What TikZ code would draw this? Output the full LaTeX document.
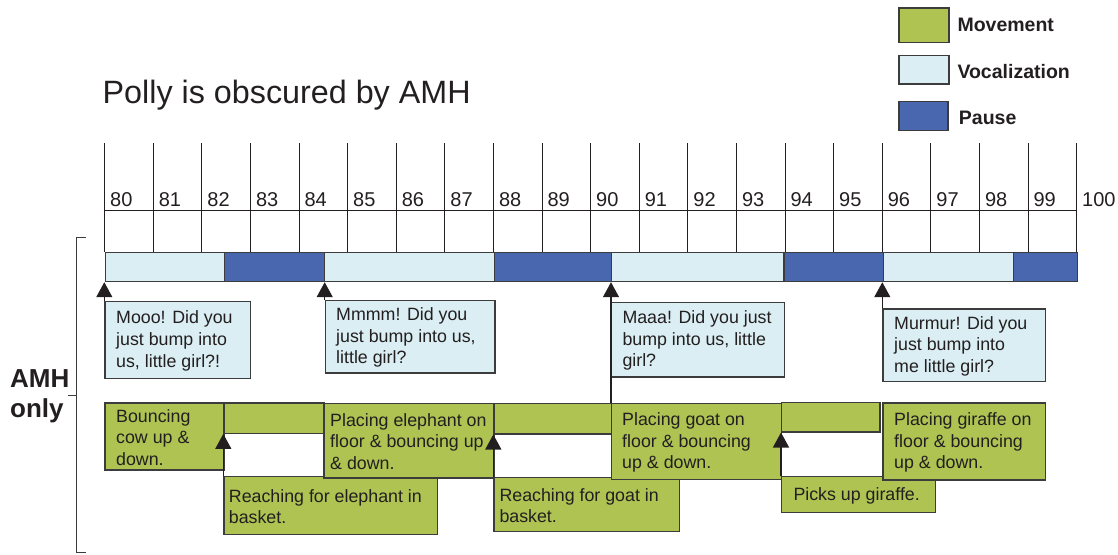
\documentclass[tikz,border=0pt]{standalone}
\usepackage{fontspec}
\setmainfont{Liberation Sans}
\usetikzlibrary{arrows.meta}
\definecolor{move}{RGB}{174,195,82}
\definecolor{vocal}{RGB}{218,238,243}
\definecolor{pause}{RGB}{72,103,175}
\definecolor{ink}{RGB}{35,31,32}
\definecolor{edge}{RGB}{60,60,60}

% rectangle node from its corners: name, style, left, top, right, bottom
\newcommand\slab[6]{%
  \node[#2, anchor=north west, inner sep=0pt,
        minimum width={(#5-#3)*1pt}, minimum height={(#6-#4)*1pt}] (#1) at (#3,#4) {};}
% text set inside a box, at a left padding: name, box, padding, text
\newcommand\btext[4]{%
  \node[txt, anchor=west] (#1) at ([xshift=#3pt, yshift=-1pt]#2.west) {#4};}

\begin{document}
\begin{tikzpicture}[x=1pt, y=-1pt,
  grid/.style={draw=ink, line width=0.9pt},
  mv/.style={draw=edge, line width=1.2pt, fill=move},
  vc/.style={draw=edge, line width=1.2pt, fill=vocal},
  ps/.style={draw=edge, line width=1.2pt, fill=pause},
  txt/.style={inner sep=0pt, align=left, text=ink, font=\fontsize{17.8}{21.6}\selectfont},
  num/.style={anchor=base west, inner sep=0pt, text=ink, font=\fontsize{20}{24}\selectfont},
  legtxt/.style={anchor=base west, inner sep=0pt, text=ink, font=\bfseries\fontsize{19.5}{23}\selectfont},
  conn/.style={draw=ink, line width=1.2pt, -{Triangle[width=16pt,length=15pt]}},
  brk/.style={draw=edge, line width=1.3pt}]
\useasboundingbox (0,0) rectangle (1118,554);

% title
\node[anchor=base west, inner sep=0pt, text=ink, font=\fontsize{32.3}{38}\selectfont]
  (title) at (102.5,103.3) {Polly is obscured by AMH};

% legend
\slab{legM}{mv}{898.3}{7.3}{948.3}{41.7}
\slab{legV}{vc}{898.3}{55}{948.3}{83.3}
\slab{legP}{ps}{898.3}{101}{947.3}{130}
\node[legtxt] (legMt) at (957.3,31.7) {Movement};
\node[legtxt] (legVt) at (957.3,78.3) {Vocalization};
\node[legtxt] (legPt) at (958.7,124) {Pause};

% time grid, seconds 80 to 100
\foreach \n in {0,...,20}
  \draw[grid] ({104.7+\n*48.6},143) -- ({104.7+\n*48.6},252);
\draw[grid] (104.7,210.7) -- (1076.7,210.7);
\foreach \n in {80,...,100}
  \node[num] (n\n) at ({104.7+(\n-80)*48.6+5.3},206.7) {\n};

% vocalization / pause bar
\slab{S1}{vc}{104.7}{252}{223.5}{281}
\slab{S2}{ps}{223.5}{252}{323.8}{281}
\slab{S3}{vc}{323.8}{252}{493.5}{281}
\slab{S4}{ps}{493.5}{252}{611}{281}
\slab{S5}{vc}{611}{252}{783.3}{281}
\slab{S6}{ps}{783.3}{252}{882.7}{281}
\slab{S7}{vc}{882.7}{252}{1012.7}{281}
\slab{S8}{ps}{1012.7}{252}{1076.7}{281}

% bracket with label
\draw[brk] (86,237.3) -- (76.7,237.3) -- (76.7,552.3) -- (86,552.3);
\draw[brk] (67.7,395.7) -- (76.7,395.7);
\node[anchor=west, inner sep=0pt, align=left, text=ink,
      font=\bfseries\fontsize{26}{30}\selectfont] (amh) at (10,396.7) {AMH\\only};

% vocalization boxes
\slab{V1}{vc}{104.3}{301}{250}{377.7}
\btext{V1t}{V1}{11.7}{Mooo! Did you\\just bump into\\us, little girl?!}
\slab{V2}{vc}{324.7}{300}{494.3}{372.3}
\btext{V2t}{V2}{11.3}{Mmmm! Did you\\just bump into us,\\little girl?}
\slab{V3}{vc}{611}{301.7}{783.7}{376.3}
\btext{V3t}{V3}{11.3}{Maaa! Did you just\\bump into us, little\\girl?}
\slab{V4}{vc}{882.3}{308.3}{1045}{381}
\btext{V4t}{V4}{11.7}{Murmur! Did you\\just bump into\\me little girl?}

% movement: reaching boxes (lower row)
\slab{M2}{mv}{223.3}{476}{436.7}{534}
\btext{M2t}{M2}{5.4}{Reaching for elephant in\\basket.}
\slab{M4}{mv}{493.3}{476.7}{679}{531}
\btext{M4t}{M4}{6}{Reaching for goat in\\basket.}
\slab{M6}{mv}{781}{476}{935}{511.7}
\btext{M6t}{M6}{12.3}{Picks up giraffe.}

% movement: upper row
\slab{M1}{mv}{104.3}{402.3}{223.3}{469.3}
\btext{M1t}{M1}{11.7}{Bouncing\\cow up \&\\down.}
\slab{B1}{mv}{223.3}{402.3}{323.3}{432.7}
\slab{M3}{mv}{323.3}{402.7}{493.3}{477.3}
\btext{M3t}{M3}{6.7}{Placing elephant on\\floor \& bouncing up\\\& down.}
\slab{B2}{mv}{493.3}{402.7}{610.7}{433.3}
\slab{M5}{mv}{611}{402.7}{780.7}{479}
\btext{M5t}{M5}{11}{Placing goat on\\floor \& bouncing\\up \& down.}
\slab{B3}{mv}{780.7}{401.7}{879.3}{431.3}
\slab{M7}{mv}{882.3}{402.3}{1045}{479.3}
\btext{M7t}{M7}{11.7}{Placing giraffe on\\floor \& bouncing\\up \& down.}

% onset markers
\draw[conn] (V1.north west) -- (V1.north west |- S1.south);
\draw[conn] (V2.north west) -- (V2.north west |- S3.south);
\draw[conn] (M5.north west) -- (M5.north west |- S5.south);
\draw[conn] (V4.north west) -- (V4.north west |- S7.south);
\draw[conn] (M2.north west) -- (M2.north west |- B1.south);
\draw[conn] (M4.north west) -- (M4.north west |- B2.south);
\draw[conn] (M6.north west) -- (M6.north west |- B3.south);
\end{tikzpicture}
\end{document}
